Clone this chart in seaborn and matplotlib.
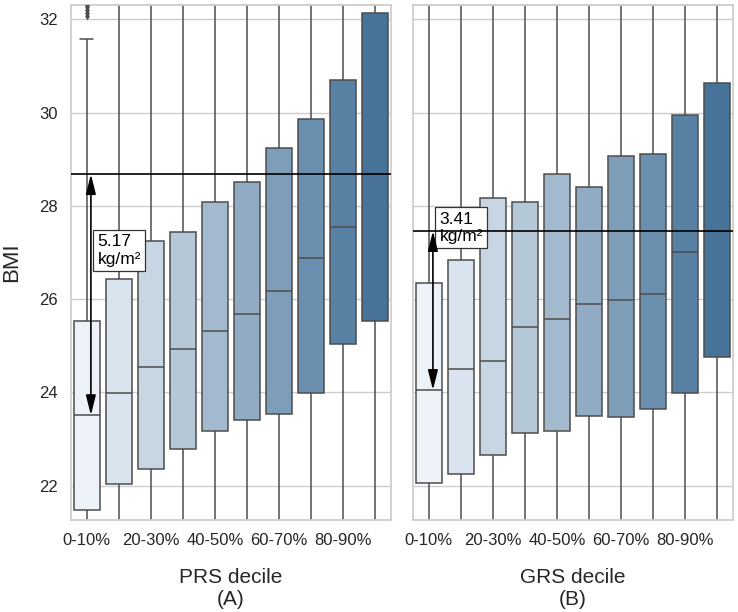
import numpy as np
import pandas as pd
import matplotlib.pyplot as plt
import seaborn as sns

# decile labels (only every other one is printed on the axis)
deciles = ["0-10%", "10-20%", "20-30%", "30-40%", "40-50%",
           "50-60%", "60-70%", "70-80%", "80-90%", "90-100%"]

# PRS panel box summary (BMI, kg/m2)
prs_q1 = [21.48, 22.03, 22.36, 22.78, 23.18, 23.40, 23.54, 23.99, 25.04, 25.54]
prs_med = [23.51, 23.98, 24.54, 24.93, 25.32, 25.69, 26.17, 26.88, 27.54, 28.68]
prs_q3 = [25.53, 26.43, 27.24, 27.43, 28.08, 28.51, 29.24, 29.86, 30.70, 32.13]
prs_lo = [16.5, 16.5, 17.0, 17.5, 17.5, 18.0, 18.0, 18.5, 19.5, 19.0]
prs_hi = [31.59, 33.0, 34.0, 34.5, 35.0, 36.0, 37.0, 38.0, 38.5, 41.0]
prs_fliers = [32.08, 32.14, 32.2, 32.26, 32.32]

# GRS panel
grs_q1 = [22.05, 22.24, 22.65, 23.12, 23.17, 23.50, 23.48, 23.65, 23.99, 24.76]
grs_med = [24.05, 24.51, 24.67, 25.40, 25.58, 25.90, 25.97, 26.12, 27.01, 27.46]
grs_q3 = [26.35, 26.84, 28.17, 28.08, 28.68, 28.40, 29.08, 29.11, 29.94, 30.64]
grs_lo = [16.5, 16.5, 17.0, 17.5, 17.5, 18.0, 18.0, 18.0, 18.5, 19.0]
grs_hi = [33.0, 33.5, 35.0, 35.0, 36.0, 35.5, 37.0, 37.0, 38.5, 39.5]

prs_diff = "5.17"
grs_diff = "3.41"


def box_frame(lo, q1, med, q3, hi):
    # five points per decile -> quartiles land exactly on q1/med/q3
    rows = []
    for i, lab in enumerate(deciles):
        for v in (lo[i], q1[i], med[i], q3[i], hi[i]):
            rows.append({"decile": lab, "BMI": v})
    return pd.DataFrame(rows)


sns.set_theme(style="whitegrid")
plt.rcParams["font.family"] = ["Liberation Sans", "DejaVu Sans"]

palette = sns.blend_palette(["#ecf2f8", "#477399"], 10)

fig, axes = plt.subplots(1, 2, sharey=True, figsize=(7.38, 6.12), dpi=100)
fig.subplots_adjust(left=0.0958, right=0.9936, bottom=0.1503, top=0.9926, wspace=0.067)

panels = [
    (axes[0], box_frame(prs_lo, prs_q1, prs_med, prs_q3, prs_hi), prs_med, prs_diff, "PRS decile\n(A)", 27.04),
    (axes[1], box_frame(grs_lo, grs_q1, grs_med, grs_q3, grs_hi), grs_med, grs_diff, "GRS decile\n(B)", 27.53),
]

for ax, df, med, diff, xlab, ty in panels:
    sns.boxplot(data=df, x="decile", y="BMI", hue="decile", order=deciles,
                palette=palette, legend=False, whis=np.inf, width=0.8,
                saturation=1, linecolor="0.3", linewidth=1.1, ax=ax)
    ax.axhline(med[-1], color="black", lw=1.2, zorder=5)
    ax.annotate("", xy=(0.13, med[0]), xytext=(0.13, med[-1]),
                arrowprops=dict(arrowstyle="<|-|>,head_length=0.8,head_width=0.2",
                                color="black", lw=1.2, shrinkA=0, shrinkB=0,
                                mutation_scale=15),
                zorder=5)
    ax.text(0.34, ty, diff + "\nkg/m²", ha="left", va="center", fontsize=12.5,
            color="black", zorder=4, linespacing=1.2,
            bbox=dict(boxstyle="square,pad=0.25", facecolor="white",
                      edgecolor="0.2", lw=0.9))
    ax.set_xticks(range(len(deciles)))
    ax.set_xticklabels([d if i % 2 == 0 else "" for i, d in enumerate(deciles)], fontsize=12)
    ax.set_xlabel(xlab, fontsize=15, labelpad=14)
    ax.set_xlim(-0.5, 9.5)

# outliers above the first PRS decile
sns.stripplot(x=[deciles[0]] * len(prs_fliers), y=prs_fliers, order=deciles,
              jitter=False, marker="d", color="0.3", size=4, ax=axes[0])

axes[0].set_ylim(21.26, 32.32)
axes[0].set_yticks([22, 24, 26, 28, 30, 32])
axes[0].tick_params(axis="y", labelsize=12)
axes[0].set_ylabel("BMI", fontsize=16, labelpad=12)
axes[1].set_ylabel("")

fig.savefig("out.png", dpi=100)
